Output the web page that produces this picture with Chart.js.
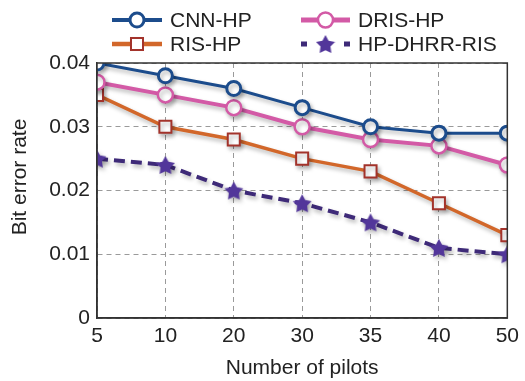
<!DOCTYPE html>
<html>
<head>
<meta charset="utf-8">
<script src="https://cdn.jsdelivr.net/npm/chart.js@4.4.0/dist/chart.umd.min.js"></script>
<style>
  html, body { margin: 0; padding: 0; background: #fff; }
  #wrap { width: 525px; height: 381px; position: relative; }
</style>
</head>
<body>
<div id="wrap"><canvas id="c" width="525" height="381"></canvas></div>
<script>
// Number of pilots (category axis)
const pilots = ['5', '10', '20', '30', '35', '40', '50'];

// Bit error rate per scheme
const cnnHP     = [0.040, 0.038, 0.036, 0.033, 0.030, 0.029, 0.029];
const drisHP    = [0.037, 0.035, 0.033, 0.030, 0.028, 0.027, 0.024];
const risHP     = [0.035, 0.030, 0.028, 0.025, 0.023, 0.018, 0.013];
const hpDhrrRis = [0.025, 0.024, 0.020, 0.018, 0.015, 0.011, 0.010];

const yTicks = [0, 0.01, 0.02, 0.03, 0.04];

const FONT = 'Liberation Sans, Arial, sans-serif';
const FSIZE = 21;

// filled five-pointed star used as a point marker
function makeStar(size, fill) {
  const cv = document.createElement('canvas');
  cv.width = size; cv.height = size;
  const g = cv.getContext('2d');
  const cx = size / 2, cy = size / 2 + 1, R = size / 2, r = R * 0.52;
  g.beginPath();
  for (let i = 0; i < 10; i++) {
    const rad = i % 2 === 0 ? R : r;
    const a = -Math.PI / 2 + i * Math.PI / 5;
    const px = cx + rad * Math.cos(a), py = cy + rad * Math.sin(a);
    if (i === 0) g.moveTo(px, py); else g.lineTo(px, py);
  }
  g.closePath();
  g.fillStyle = fill;
  g.fill();
  return cv;
}
const starImg = makeStar(20, '#52369a');

const series = [
  { label: 'CNN-HP', data: cnnHP, borderColor: '#1c4c8c', borderWidth: 3,
    pointStyle: 'circle', pointRadius: 7, pointBorderWidth: 3,
    pointBorderColor: '#1c4c8c', pointBackgroundColor: '#ffffff' },
  { label: 'DRIS-HP', data: drisHP, borderColor: '#d35aa6', borderWidth: 4,
    pointStyle: 'circle', pointRadius: 7.5, pointBorderWidth: 2.5,
    pointBorderColor: '#d35aa6', pointBackgroundColor: '#ffffff' },
  { label: 'RIS-HP', data: risHP, borderColor: '#d2672a', borderWidth: 3.5,
    pointStyle: 'rect', pointRadius: 8.5, pointBorderWidth: 2,
    pointBorderColor: '#a3332b', pointBackgroundColor: '#ffffff' },
  { label: 'HP-DHRR-RIS', data: hpDhrrRis, borderColor: '#3e2a78', borderWidth: 4,
    borderDash: [11, 6], pointStyle: starImg, pointRadius: 10,
    pointBorderColor: '#52369a', pointBackgroundColor: '#52369a' }
];

const datasets = series.map(s => Object.assign({
  fill: false, tension: 0, clip: 0, backgroundColor: s.borderColor,
  pointHoverRadius: s.pointRadius
}, s));

// soft drop shadow under the curves
const shadowPlugin = {
  id: 'shadow',
  beforeDatasetsDraw(chart) {
    const ctx = chart.ctx;
    ctx.save();
    ctx.shadowColor = 'rgba(0,0,0,0.28)';
    ctx.shadowBlur = 4;
    ctx.shadowOffsetX = 2;
    ctx.shadowOffsetY = 3;
  },
  afterDatasetsDraw(chart) { chart.ctx.restore(); }
};

// frame around the plot area and the vertical axis caption
const framePlugin = {
  id: 'frame',
  afterDraw(chart) {
    const { ctx, chartArea: a } = chart;
    ctx.save();
    ctx.strokeStyle = '#333333';
    ctx.lineWidth = 1.5;
    ctx.strokeRect(a.left, a.top, a.right - a.left, a.bottom - a.top);
    ctx.translate(20, 177);
    ctx.rotate(-Math.PI / 2);
    ctx.fillStyle = '#222222';
    ctx.font = FSIZE + 'px ' + FONT;
    ctx.textAlign = 'center';
    ctx.textBaseline = 'middle';
    ctx.fillText('Bit error rate', 0, 0);
    ctx.restore();
  }
};

// two-column legend above the plot
const legendPlugin = {
  id: 'twoColLegend',
  afterDraw(chart) {
    const ctx = chart.ctx;
    const cols = [{ x0: 112, x1: 162, tx: 170 }, { x0: 301, x1: 350, tx: 358 }];
    const rows = [20, 44];
    ctx.save();
    series.forEach((s, i) => {
      const col = cols[i % 2], y = rows[Math.floor(i / 2)];
      const mx = (col.x0 + col.x1) / 2;
      ctx.strokeStyle = s.borderColor;
      ctx.lineWidth = s.borderWidth + 1;
      ctx.beginPath();
      if (s.borderDash) {
        ctx.moveTo(col.x0, y); ctx.lineTo(col.x0 + 6, y);
        ctx.moveTo(col.x1 - 6, y); ctx.lineTo(col.x1, y);
      } else {
        ctx.moveTo(col.x0, y); ctx.lineTo(col.x1, y);
      }
      ctx.stroke();
      if (s.pointStyle === 'circle') {
        ctx.beginPath();
        ctx.arc(mx, y, s.pointRadius, 0, Math.PI * 2);
        ctx.fillStyle = '#fff';
        ctx.fill();
        ctx.lineWidth = s.pointBorderWidth;
        ctx.strokeStyle = s.pointBorderColor;
        ctx.stroke();
      } else if (s.pointStyle === 'rect') {
        const h = s.pointRadius * Math.SQRT1_2;
        ctx.fillStyle = '#fff';
        ctx.fillRect(mx - h, y - h, 2 * h, 2 * h);
        ctx.lineWidth = s.pointBorderWidth;
        ctx.strokeStyle = s.pointBorderColor;
        ctx.strokeRect(mx - h, y - h, 2 * h, 2 * h);
      } else {
        ctx.drawImage(starImg, mx - 10, y - 10, 20, 20);
      }
      ctx.fillStyle = '#222222';
      ctx.font = FSIZE + 'px ' + FONT;
      ctx.textBaseline = 'middle';
      ctx.textAlign = 'left';
      ctx.fillText(s.label, col.tx, y + 1);
    });
    ctx.restore();
  }
};

new Chart(document.getElementById('c'), {
  type: 'line',
  data: { labels: pilots, datasets },
  options: {
    responsive: false,
    animation: false,
    devicePixelRatio: 1,
    layout: { padding: { top: 63, right: 12, left: 0, bottom: 0 } },
    plugins: { legend: { display: false }, tooltip: { enabled: false } },
    scales: {
      x: {
        type: 'category',
        offset: false,
        grid: { color: '#9a9a9a', lineWidth: 1, drawTicks: false },
        border: { display: true, color: '#333333', width: 1.5, dash: [5, 4] },
        ticks: { color: '#222222', font: { family: FONT, size: FSIZE }, padding: 6, maxRotation: 0, autoSkip: false },
        title: { display: true, text: 'Number of pilots', color: '#222222',
                 font: { family: FONT, size: FSIZE }, padding: { top: 3, bottom: 0 } },
        afterFit(scale) { scale.height = 63; }
      },
      y: {
        min: 0, max: 0.04,
        afterBuildTicks(scale) { scale.ticks = yTicks.map(v => ({ value: v })); },
        grid: { color: '#9a9a9a', lineWidth: 1, drawTicks: false },
        border: { display: true, color: '#333333', width: 1.5, dash: [5, 4] },
        ticks: { color: '#222222', font: { family: FONT, size: FSIZE }, padding: 7,
                 callback: v => String(+v.toFixed(2)) },
        afterFit(scale) { scale.width = 97; }
      }
    }
  },
  plugins: [shadowPlugin, framePlugin, legendPlugin]
});
</script>
</body>
</html>
